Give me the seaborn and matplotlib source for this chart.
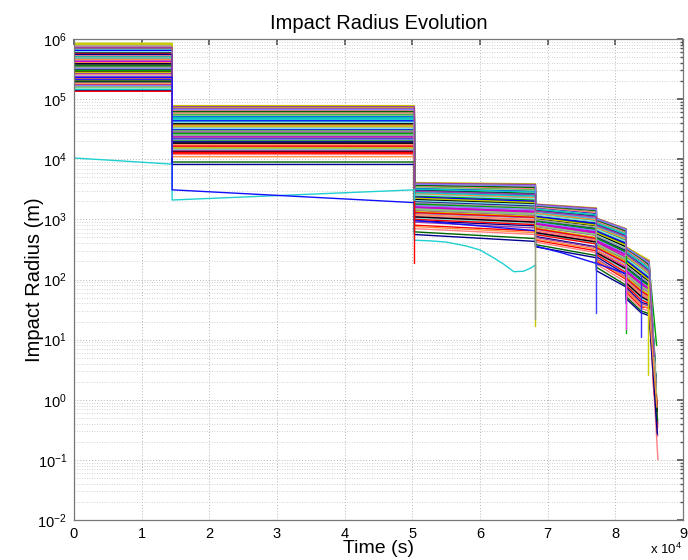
import numpy as np
import pandas as pd
import matplotlib
matplotlib.use("Agg")
import matplotlib.pyplot as plt
import matplotlib.ticker as mticker
import seaborn as sns

# ---- stage switch times (s) ----
stage_edges = [0, 14500, 50300, 68200, 77200, 81600, 83800, 85000]

# ---- impact radius (m) of each trajectory per stage ----
s1 = [3.9e5, 6.8e5, 2.2e5, 5.1e5, 1.6e5, 8.5e5, 2.9e5, 4.4e5, 1.9e5, 7.4e5, 3.3e5, 2.5e5, 5.9e5, 1.4e5, 4.1e5, 2.7e5,
      6.3e5, 3.6e5, 1.75e5, 5.4e5, 2.35e5, 8.0e5, 3.1e5, 4.7e5, 1.55e5, 2.05e5, 6.6e5, 3.75e5, 2.6e5, 4.95e5, 1.85e5, 7.1e5,
      2.15e5, 3.45e5, 5.7e5, 1.45e5, 4.25e5, 2.8e5, 6.0e5, 3.2e5, 1.65e5, 5.25e5, 2.45e5, 7.7e5, 3.55e5, 1.95e5, 4.55e5, 2.65e5,
      6.45e5, 3.0e5, 1.35e5, 5.0e5, 2.3e5, 8.3e5, 3.85e5, 1.7e5, 4.85e5, 2.55e5, 6.15e5, 3.4e5, 2.0e5, 5.55e5, 2.25e5, 7.25e5]
s2 = [3.1e4, 5.6e4, 1.7e4, 4.2e4, 2.4e4, 7.8e4, 1.35e4, 3.6e4, 2.0e4, 6.5e4, 2.75e4, 1.5e4, 4.9e4, 2.2e4, 3.3e4, 1.9e4,
      5.2e4, 2.9e4, 1.25e4, 4.5e4, 2.6e4, 7.2e4, 3.8e4, 1.6e4, 2.3e4, 5.9e4, 1.45e4, 3.45e4, 2.1e4, 4.0e4, 1.8e4, 6.9e4,
      2.5e4, 3.0e4, 1.3e4, 4.7e4, 2.85e4, 1.55e4, 3.95e4, 2.15e4, 5.4e4, 1.7e4, 3.25e4, 2.45e4, 6.2e4, 1.95e4, 3.7e4, 1.4e4,
      4.35e4, 2.7e4, 1.65e4, 5.0e4, 2.35e4, 3.55e4, 1.85e4, 6.7e4, 2.55e4, 1.2e4, 4.1e4, 2.95e4, 9.0e3, 8.2e3, 1.1e4, 7.5e4]
s3_start = [2600, 3500, 1500, 2200, 1100, 4100, 1800, 2900, 1300, 3800, 2000, 1650, 3100, 950, 2400, 1400,
            3300, 1900, 800, 2700, 1550, 3900, 2100, 1250, 2500, 3600, 1050, 1750, 2300, 3000, 1200, 4000,
            1850, 2450, 1000, 2800, 1600, 1350, 2150, 1700, 3400, 1150, 2050, 1450, 3700, 1950, 2650, 900,
            2350, 1800, 1300, 3200, 1600, 2250, 1100, 3850, 1500, 700, 2550, 1900, 620, 560, 760, 2950]
s3_end = [2250, 3100, 1250, 1900, 900, 3900, 1550, 2500, 1100, 3500, 1700, 1400, 2700, 780, 2050, 1150,
          2950, 1600, 640, 2350, 1300, 3700, 1800, 1050, 2150, 3250, 860, 1500, 1950, 2600, 990, 3800,
          1600, 2100, 820, 2450, 1350, 1120, 1850, 1450, 3050, 950, 1750, 1200, 3400, 1650, 2300, 720,
          2000, 1550, 1080, 2850, 1350, 1900, 900, 3600, 1250, 560, 2200, 1600, 480, 430, 600, 2600]
s4_start = [1200, 1650, 800, 1050, 620, 1800, 900, 1350, 700, 1700, 1000, 850, 1450, 520, 1150, 760,
            1550, 950, 450, 1250, 820, 1750, 1080, 680, 1180, 1600, 580, 880, 1100, 1400, 650, 1780,
            920, 1220, 560, 1300, 860, 720, 1020, 900, 1500, 640, 980, 780, 1680, 960, 1260, 500,
            1120, 940, 700, 1480, 840, 1060, 600, 1720, 790, 420, 1200, 990, 380, 350, 470, 1380]
s4_end = [900, 1300, 560, 800, 430, 1550, 650, 1050, 480, 1400, 760, 620, 1150, 350, 880, 540,
          1250, 700, 300, 960, 580, 1500, 820, 470, 900, 1300, 400, 640, 850, 1120, 450, 1520,
          680, 950, 390, 1000, 620, 500, 780, 650, 1200, 440, 740, 550, 1400, 710, 980, 340,
          860, 690, 480, 1180, 600, 800, 420, 1450, 560, 280, 920, 740, 250, 230, 320, 1100]
s5_start = [700, 950, 420, 600, 300, 1050, 480, 780, 350, 1000, 560, 440, 850, 240, 650, 380,
            900, 520, 200, 720, 410, 1020, 620, 330, 680, 930, 270, 460, 630, 820, 310, 1040,
            500, 700, 260, 750, 450, 360, 580, 470, 880, 290, 540, 400, 980, 510, 730, 220,
            640, 490, 340, 860, 430, 600, 280, 1010, 390, 180, 690, 530, 160, 140, 210, 800]
s5_end = [430, 620, 230, 370, 160, 700, 280, 500, 190, 650, 340, 250, 560, 120, 400, 210,
          600, 310, 100, 450, 230, 680, 380, 180, 420, 610, 140, 260, 390, 530, 170, 690,
          300, 440, 130, 480, 260, 200, 350, 270, 580, 150, 320, 220, 640, 300, 470, 110,
          400, 290, 190, 560, 250, 370, 150, 670, 220, 90, 430, 320, 80, 75, 105, 520]
s6_start = [230, 320, 130, 190, 90, 350, 150, 260, 110, 330, 180, 140, 280, 75, 210, 120,
            300, 165, 62, 240, 125, 345, 200, 100, 220, 310, 85, 145, 205, 270, 95, 340,
            160, 230, 80, 250, 140, 110, 185, 150, 290, 90, 170, 120, 325, 160, 245, 70,
            210, 155, 105, 285, 135, 195, 88, 335, 125, 58, 225, 170, 52, 48, 66, 265]
s6_end = [150, 220, 80, 120, 55, 250, 95, 170, 65, 230, 115, 85, 190, 42, 135, 72,
          205, 105, 35, 160, 78, 240, 130, 60, 145, 210, 50, 90, 130, 180, 58, 235,
          100, 150, 46, 165, 88, 68, 118, 95, 195, 55, 108, 75, 225, 100, 160, 40,
          135, 98, 64, 190, 84, 125, 52, 232, 78, 33, 148, 110, 30, 28, 38, 175]
tail_mid = [115, 170, 66, 95, 48, 210, 76, 130, 57, 180, 86, 72, 150, 38, 105, 61,
            160, 84, 34, 118, 65, 190, 99, 51, 110, 167, 42, 74, 103, 142, 49, 200,
            80, 122, 40, 129, 70, 55, 93, 76, 156, 46, 87, 63, 175, 82, 125, 36,
            106, 78, 53, 148, 68, 97, 44, 186, 65, 30, 116, 87, 27, 25, 32, 137]
tail_end = [3.0, 8.0, 1.2, 2.0, 0.6, 12, 1.5, 5, 0.9, 10, 2.5, 1.8, 6, 0.4, 3.5, 1.1,
            7, 2.2, 0.3, 4, 1.4, 15, 2.8, 0.8, 3.2, 9, 0.5, 1.7, 3.8, 5.5, 0.7, 20,
            2.4, 4.5, 0.35, 4.8, 1.6, 1.0, 2.6, 1.9, 6.5, 0.55, 2.1, 1.3, 11, 2.3, 4.2, 0.25,
            3.4, 2.0, 0.85, 7.5, 1.45, 2.9, 0.65, 14, 1.25, 0.1, 3.6, 2.2, 0.45, 0.27, 0.75, 5.2]
tail_time = [85900, 86100, 85700, 85950, 86200, 85600, 86050, 85850, 86150, 85650, 86000, 85900, 85750, 86250, 85950, 86100,
             85700, 86000, 86200, 85800, 86050, 85550, 85900, 86150, 85850, 85650, 86200, 86000, 85900, 85750, 86150, 85500,
             85950, 85800, 86250, 85850, 86050, 86100, 85950, 86000, 85700, 86200, 85900, 86050, 85600, 85950, 85800, 86250,
             85850, 86000, 86150, 85700, 86050, 85900, 86200, 85550, 86100, 86300, 85850, 85950, 86250, 86200, 86150, 85750]

# ---- two trajectories that leave the main bundle ----
cyan_time = [0, 14500, 14500, 50300, 50300, 52500, 55000, 58000, 60000, 62000, 63500, 65000, 66400, 67500, 68200, 68200]
cyan_radius = [10500, 8300, 2100, 3100, 450, 440, 420, 360, 310, 230, 180, 135, 137, 155, 175, 150]
blue_time = [0, 14500, 14500, 50300, 50300, 68200, 68200, 72000, 77200, 81600, 81600]
blue_radius = [2.3e5, 2.3e5, 3100, 1900, 960, 650, 360, 280, 185, 125, 40]

# ---- trajectories that terminate at a stage switch ----
drop_time = [50300, 68200, 68200, 77200, 81600, 81600, 83800, 84900]
drop_top = [2000, 800, 600, 400, 250, 180, 120, 90]
drop_bottom = [190, 17, 22, 28, 13, 15, 11, 2.6]
drop_colors = ["#ff0000", "#c8c800", "#999999", "#4040ff", "#00b000", "#ff40ff", "#3030ff", "#d0d000"]

line_colors = ["#0000ff", "#00a000", "#ff0000", "#00c8c8", "#cc00cc", "#c8c800", "#000000", "#8080ff",
               "#80d080", "#ff8080", "#80e0e0", "#a0a0a0", "#006400", "#000090", "#ff9040", "#a040a0"]

# axis ticks
x_ticks = [0, 10000, 20000, 30000, 40000, 50000, 60000, 70000, 80000, 90000]
y_ticks = [1e-2, 1e-1, 1e0, 1e1, 1e2, 1e3, 1e4, 1e5, 1e6]

rows = []
n_lines = len(s1)
e = stage_edges
for i in range(n_lines):
    t = [e[0], e[1], e[1], e[2], e[2], e[3], e[3], e[4], e[4], e[5], e[5], e[6], e[7], tail_time[i]]
    v = [s1[i], s1[i], s2[i], s2[i], s3_start[i], s3_end[i], s4_start[i], s4_end[i],
         s5_start[i], s5_end[i], s6_start[i], s6_end[i], tail_mid[i], tail_end[i]]
    for tt, vv in zip(t, v):
        rows.append({"time": tt, "radius": vv, "traj": f"t{i:02d}"})
for tt, vv in zip(cyan_time, cyan_radius):
    rows.append({"time": tt, "radius": vv, "traj": "cyan"})
for tt, vv in zip(blue_time, blue_radius):
    rows.append({"time": tt, "radius": vv, "traj": "blue"})
for k in range(len(drop_time)):
    rows.append({"time": drop_time[k], "radius": drop_top[k], "traj": f"d{k}"})
    rows.append({"time": drop_time[k], "radius": drop_bottom[k], "traj": f"d{k}"})
df = pd.DataFrame(rows)

palette = {f"t{i:02d}": line_colors[i % len(line_colors)] for i in range(n_lines)}
palette["cyan"] = "#20d0d0"
palette["blue"] = "#1010ff"
for k in range(len(drop_time)):
    palette[f"d{k}"] = drop_colors[k]

sns.set_theme(style="white")
plt.rcParams["font.family"] = ["Liberation Sans", "DejaVu Sans"]
plt.rcParams["mathtext.fontset"] = "custom"
plt.rcParams["mathtext.rm"] = "Liberation Sans"
plt.rcParams["mathtext.it"] = "Liberation Sans:italic"
plt.rcParams["mathtext.bf"] = "Liberation Sans:bold"
plt.rcParams["text.color"] = "black"
plt.rcParams["axes.labelcolor"] = "black"

fig = plt.figure(figsize=(6.88, 5.6), dpi=100)
ax = fig.add_axes([74 / 688, 40 / 560, 609 / 688, 481 / 560])

sns.lineplot(data=df, x="time", y="radius", hue="traj", palette=palette,
             estimator=None, sort=False, legend=False, linewidth=1.0, ax=ax)

ax.set_yscale("log")
ax.set_xlim(0, 90000)
ax.set_ylim(1e-2, 1e6)
ax.xaxis.set_major_locator(mticker.FixedLocator(x_ticks))
ax.xaxis.set_major_formatter(mticker.FuncFormatter(lambda x, p: f"{x / 1e4:g}"))
ax.yaxis.set_major_locator(mticker.FixedLocator(y_ticks))
ax.yaxis.set_major_formatter(mticker.LogFormatterSciNotation())
ax.yaxis.set_minor_locator(mticker.FixedLocator(
    [m * 10.0 ** d for d in range(-2, 6) for m in range(2, 10)]))
ax.yaxis.set_minor_formatter(mticker.NullFormatter())

ax.grid(True, which="major", axis="both", color="#b4b4b4", linestyle=(0, (1, 2)), linewidth=0.7)
ax.grid(True, which="minor", axis="y", color="#c4c4c4", linestyle=(0, (1, 2)), linewidth=0.6)
ax.set_axisbelow(True)

ax.tick_params(which="both", direction="in", top=True, right=True, colors="#555555",
               labelcolor="black", labelsize=10.5)
ax.tick_params(which="major", length=4, pad=5)
ax.tick_params(which="minor", length=2)
for sp in ax.spines.values():
    sp.set_color("#777777")
    sp.set_linewidth(0.9)

ax.set_title("Impact Radius Evolution", fontsize=14.5, pad=7, color="black")
ax.set_xlabel("Time (s)", fontsize=14, labelpad=-1)
ax.set_ylabel("Impact Radius (m)", fontsize=14.5, labelpad=-5)
fig.text(682 / 688, 1 - 549 / 560, r"x 10$^{4}$", ha="right", va="center", fontsize=9.5)

fig.savefig("out.png", dpi=100)
